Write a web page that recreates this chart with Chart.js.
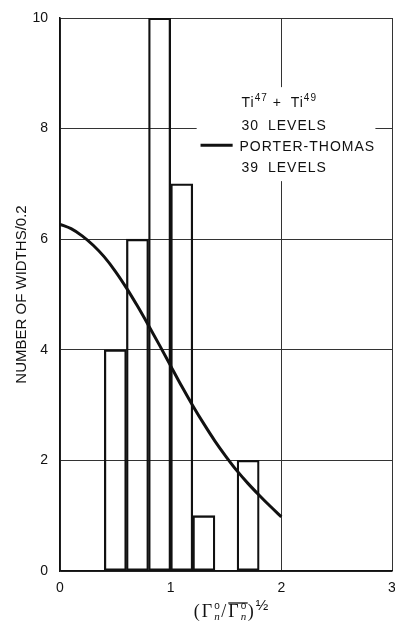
<!DOCTYPE html>
<html><head><meta charset="utf-8">
<script src="https://cdn.jsdelivr.net/npm/chart.js@4.4.1/dist/chart.umd.min.js"></script>
<style>html,body{margin:0;padding:0;background:#fff;}canvas{display:block}</style>
</head><body>
<canvas id="c" width="395" height="622"></canvas>
<script>
// ---- data ----
const binCenters = [0.5, 0.7, 0.9, 1.1, 1.3, 1.5, 1.7];
const binCounts  = [4, 6, 10, 7, 1, 0, 2];
const ptX = [0, 0.1, 0.2, 0.3, 0.4, 0.5, 0.6, 0.7, 0.8, 0.9, 1.0, 1.1, 1.2, 1.3, 1.4, 1.5, 1.6, 1.7, 1.8, 1.9, 2.0];
const ptY = [6.27, 6.19, 6.06, 5.89, 5.68, 5.42, 5.12, 4.79, 4.44, 4.08, 3.71, 3.34, 2.99, 2.66, 2.35, 2.07, 1.81, 1.58, 1.37, 1.17, 0.98];
const xTicks = [0, 1, 2, 3];
const yTicks = [0, 2, 4, 6, 8, 10];
const yTitle = 'NUMBER OF WIDTHS/0.2';
const legendHead = [['Ti', ''], ['47', 'sup'], [' + ', ''], ['Ti', ''], ['49', 'sup']];
const legendLines = ['30 LEVELS', 'PORTER-THOMAS', '39 LEVELS'];
const xTitleParts = [['(', 'main'], ['Γ', 'main'], ['n|o', 'subsup'], ['/', 'main'], ['Γ', 'over'], ['n|o', 'subsupover'], [')', 'main'], ['½', 'pow']];

const INK = '#111';
const SANS = '"Liberation Sans", Arial, sans-serif';

const legendPlugin = {
  id: 'legendBox',
  beforeDatasetsDraw(chart) {
    const ctx = chart.ctx, xs = chart.scales.x, ys = chart.scales.y;
    const x0 = xs.getPixelForValue(1.235), x1 = xs.getPixelForValue(2.85);
    const y0 = ys.getPixelForValue(8.75), y1 = ys.getPixelForValue(7.05);
    ctx.save();
    ctx.fillStyle = '#fff';
    ctx.fillRect(x0, y0, x1 - x0, y1 - y0);
    ctx.restore();
  },
  afterDatasetsDraw(chart) {
    const ctx = chart.ctx, xs = chart.scales.x, ys = chart.scales.y;
    ctx.save();
    ctx.fillStyle = INK;
    ctx.textBaseline = 'alphabetic';
    ctx.letterSpacing = '1px';
    const tx = xs.getPixelForValue(1.64);
    let x = tx;
    const hb = ys.getPixelForValue(8.39);
    for (const [t, k] of legendHead) {
      ctx.font = k === 'sup' ? '10px ' + SANS : '14px ' + SANS;
      ctx.fillText(t, x, k === 'sup' ? hb - 6 : hb);
      x += ctx.measureText(t).width + (t === ' + ' ? 4 : 0);
    }
    ctx.font = '14px ' + SANS;
    try { ctx.wordSpacing = '4px'; } catch (e) {}
    const bases = [7.97, 7.6, 7.22];
    legendLines.forEach((t, i) => ctx.fillText(t, tx - (i === 1 ? 2 : 0), ys.getPixelForValue(bases[i])));
    const ly = ys.getPixelForValue(7.7);
    ctx.strokeStyle = INK; ctx.lineWidth = 3;
    ctx.beginPath();
    ctx.moveTo(xs.getPixelForValue(1.27), ly);
    ctx.lineTo(xs.getPixelForValue(1.56), ly);
    ctx.stroke();
    ctx.restore();
  }
};

const xTitlePlugin = {
  id: 'xTitle',
  afterDraw(chart) {
    const ctx = chart.ctx, a = chart.chartArea;
    const base = 617;
    const mainF = '18px "Liberation Serif", serif';
    const subF = 'italic 11px "Liberation Serif", serif';
    const supF = '10px ' + SANS;
    const powF = '15px ' + SANS;
    const widthOf = ([t, k]) => {
      if (k.startsWith('subsup')) {
        const [s, p] = t.split('|');
        ctx.font = subF; const w1 = ctx.measureText(s).width;
        ctx.font = supF; const w2 = ctx.measureText(p).width;
        return Math.max(w1, w2) + 1.5;
      }
      ctx.font = k === 'pow' ? powF : mainF;
      return ctx.measureText(t).width + 2;
    };
    ctx.save();
    const total = xTitleParts.reduce((s, p) => s + widthOf(p), 0);
    let x = (a.left + a.right) / 2 + 6 - total / 2;
    ctx.fillStyle = INK; ctx.strokeStyle = INK;
    let overStart = null;
    for (const p of xTitleParts) {
      const [t, k] = p;
      const w = widthOf(p);
      if (k === 'over') overStart = x;
      if (k.startsWith('subsup')) {
        const [s, q] = t.split('|');
        ctx.font = subF; ctx.fillText(s, x, base + 3);
        ctx.font = supF; ctx.fillText(q, x, base - 8);
      } else if (k === 'pow') {
        ctx.font = powF; ctx.fillText(t, x, base - 7);
      } else {
        ctx.font = mainF; ctx.fillText(t, x, base);
      }
      if (k === 'subsupover' && overStart !== null) {
        ctx.lineWidth = 1.3;
        ctx.beginPath(); ctx.moveTo(overStart, base - 14); ctx.lineTo(x + w, base - 14); ctx.stroke();
      }
      x += w;
    }
    ctx.restore();
  }
};

new Chart(document.getElementById('c'), {
  type: 'bar',
  data: {
    datasets: [
      {
        type: 'bar',
        label: 'Ti47 + Ti49, 30 levels',
        data: binCenters.map((x, i) => ({ x, y: binCounts[i] })),
        backgroundColor: 'rgba(0,0,0,0)',
        borderColor: INK,
        borderWidth: 1.6,
        borderSkipped: false,
        barPercentage: 1,
        categoryPercentage: 1,
        order: 2
      },
      {
        type: 'line',
        label: 'Porter-Thomas, 39 levels',
        data: ptX.map((x, i) => ({ x, y: ptY[i] })),
        borderColor: INK,
        borderWidth: 3,
        pointRadius: 0,
        fill: false,
        tension: 0.4,
        cubicInterpolationMode: 'monotone',
        order: 1
      }
    ]
  },
  options: {
    responsive: false,
    animation: false,
    layout: { padding: { top: 18, right: 3, left: 0, bottom: 0 } },
    plugins: { legend: { display: false }, tooltip: { enabled: false } },
    scales: {
      x: {
        type: 'linear', min: 0, max: 3, offset: false,
        afterBuildTicks: s => { s.ticks = xTicks.map(v => ({ value: v })); },
        ticks: { padding: 9, color: INK, font: { family: SANS, size: 14 }, maxRotation: 0, autoSkip: false },
        grid: { color: '#333', lineWidth: 1, drawTicks: false, offset: false },
        border: { color: INK, width: 1.5 },
        afterFit: s => { s.height = 51; s.paddingLeft = 0; s.paddingRight = 0; }
      },
      y: {
        type: 'linear', min: 0, max: 10,
        afterBuildTicks: s => { s.ticks = yTicks.map(v => ({ value: v })); },
        ticks: { padding: 12, color: INK, font: { family: SANS, size: 14 } },
        grid: { color: '#333', lineWidth: 1, drawTicks: false, offset: false },
        border: { color: INK, width: 1.5 },
        title: { display: true, text: yTitle, color: INK, font: { family: SANS, size: 15 }, padding: { top: 13, bottom: 0 } },
        afterFit: s => { s.width = 60; s.paddingTop = 0; s.paddingBottom = 0; }
      }
    }
  },
  plugins: [legendPlugin, xTitlePlugin]
});
</script>
</body></html>
